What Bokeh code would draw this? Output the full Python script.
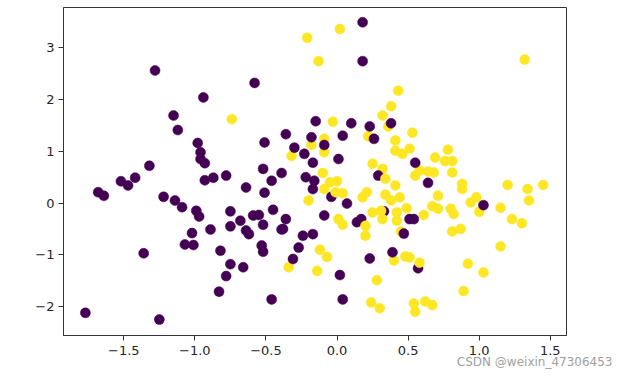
from bokeh.plotting import figure
from bokeh.models import ColumnDataSource, Range1d, FixedTicker, Title
from bokeh.embed import file_html
from bokeh.resources import INLINE

# class 0 (purple) points
x0 = [-1.28, -0.94, -1.15, -1.12, -0.98, -0.96, -0.96, -0.93, -1.32, -1.52,
      -1.42, -1.47, -1.68, -1.64, -0.93, -0.87, -0.78, -1.22, -1.14, -1.09,
      -0.99, -0.97, -0.75, -0.89, -1.02, -0.75, -1.07, -1.01, -1.36, -0.82,
      -0.75, -0.78, -0.83, -1.77, -1.25, 0.18, 0.18, -0.58, -0.15, 0.10,
      0.23, 0.38, -0.36, -0.18, 0.04, 0.26, -0.51, -0.30, -0.09, -0.23,
      0.01, -0.17, -0.52, -0.39, -0.22, 0.55, 0.29, 0.64, 1.03, 0.51,
      0.54, 0.47, 0.39, 0.57, 0.33, -0.16, -0.17, -0.04, 0.07, -0.36,
      -0.09, 0.14, 0.17, -0.38, -0.24, -0.17, -0.64, -0.51, -0.46, -0.68,
      -0.64, -0.62, -0.59, -0.55, -0.45, -0.52, -0.39, -0.53, -0.52, -0.27,
      -0.31, -0.66, -0.46, 0.02, 0.04, 0.23]
y0 = [2.56, 2.04, 1.69, 1.41, 1.16, 0.98, 0.85, 0.77, 0.72, 0.42,
      0.49, 0.34, 0.21, 0.14, 0.44, 0.49, 0.53, 0.12, 0.05, -0.08,
      -0.15, -0.26, -0.16, -0.51, -0.58, -0.45, -0.80, -0.81, -0.97, -0.92,
      -1.18, -1.41, -1.71, -2.12, -2.25, 3.49, 2.74, 2.32, 1.58, 1.54,
      1.48, 1.54, 1.33, 1.27, 1.30, 1.24, 1.17, 1.07, 1.12, 0.95,
      0.85, 0.78, 0.66, 0.58, 0.50, 0.78, 0.53, 0.39, -0.04, -0.31,
      -0.31, -0.59, -0.95, -1.26, -0.16, 0.43, 0.27, 0.12, -0.01, -0.31,
      -0.24, -0.37, -0.31, -0.50, -0.63, -0.60, 0.30, 0.20, 0.43, -0.34,
      -0.53, -0.60, -0.24, -0.23, -0.13, -0.42, -0.51, -0.82, -0.94, -0.86,
      -1.08, -1.24, -1.86, -1.39, -1.86, -1.07]

# class 1 (yellow) points
x1 = [-0.74, 0.02, -0.21, -0.13, 0.43, 0.38, 0.32, -0.03, 0.36, -0.09,
      0.22, 0.41, -0.18, -0.09, -0.32, 0.25, 0.32, 0.41, -0.10, 1.32,
      0.53, 0.46, 0.51, 0.78, 0.69, 0.76, 0.81, 0.58, 0.64, 0.68,
      0.81, 0.55, 0.88, 0.88, 1.20, 1.34, 1.45, 1.35, 0.41, 0.44,
      0.38, 0.71, 0.98, 0.94, 1.00, 1.15, 0.67, 0.71, 0.49, 0.42,
      0.61, 0.80, 0.82, 0.42, 1.23, 1.30, 0.45, 0.81, 0.87, 1.15,
      0.40, 0.48, 0.51, 0.58, 0.92, 1.03, 0.89, 0.54, 0.55, 0.62,
      0.67, 0.34, 0.31, 0.32, -0.09, -0.05, 0.00, -0.01, 0.04, -0.20,
      0.18, 0.21, 0.01, 0.04, 0.20, 0.25, 0.20, -0.34, -0.12, -0.07,
      -0.14, 0.28, 0.24, 0.30, 0.34]
y1 = [1.62, 3.36, 3.19, 2.74, 2.17, 1.87, 1.69, 1.57, 1.48, 1.24,
      1.29, 1.21, 1.12, 0.98, 0.91, 0.76, 0.66, 1.01, 0.58, 2.77,
      1.36, 0.95, 1.05, 1.03, 0.88, 0.81, 0.81, 0.63, 0.61, 0.59,
      0.59, 0.53, 0.37, 0.27, 0.35, 0.27, 0.35, 0.05, 0.34, 0.11,
      0.05, 0.14, 0.11, 0.01, -0.17, -0.09, -0.06, -0.11, -0.10, -0.18,
      -0.23, -0.11, -0.21, -0.34, -0.31, -0.39, -0.55, -0.55, -0.50, -0.84,
      -1.11, -1.03, -1.05, -1.15, -1.17, -1.34, -1.70, -1.94, -2.10, -1.90,
      -1.97, 0.16, -0.15, -0.31, 0.27, 0.40, 0.42, 0.21, 0.19, 0.05,
      0.11, 0.21, -0.31, -0.42, -0.44, -0.18, -0.63, -1.24, -0.90, -1.04,
      -1.31, -1.49, -1.92, -2.03, 0.47]

x_ticks = [-1.5, -1.0, -0.5, 0.0, 0.5, 1.0, 1.5]
x_tick_labels = ["\u22121.5", "\u22121.0", "\u22120.5", "0.0", "0.5", "1.0", "1.5"]
y_ticks = [-2, -1, 0, 1, 2, 3]
y_tick_labels = ["\u22122", "\u22121", "0", "1", "2", "3"]

class_colors = ["#440154", "#fde725"]

xs, ys, cs = [], [], []
for i in range(max(len(x0), len(x1))):
    if i < len(x0):
        xs.append(x0[i]); ys.append(y0[i]); cs.append(class_colors[0])
    if i < len(x1):
        xs.append(x1[i]); ys.append(y1[i]); cs.append(class_colors[1])

src = ColumnDataSource(dict(x=xs, y=ys, c=cs))

p = figure(width=628, height=376, output_backend="svg", toolbar_location=None,
           x_range=Range1d(-1.924, 1.614), y_range=Range1d(-2.557, 3.776),
           min_border_left=63, min_border_right=62, min_border_top=7,
           min_border_bottom=41)
p.background_fill_color = "white"
p.border_fill_color = "white"
p.grid.visible = False
p.outline_line_color = "#333333"
p.outline_line_width = 1
p.outline_line_alpha = 1

p.scatter("x", "y", source=src, size=10, fill_color="c", line_color="c",
          line_width=0.5)

for ax in (p.xaxis[0], p.yaxis[0]):
    ax.axis_line_color = "#333333"
    ax.major_tick_line_color = "#333333"
    ax.major_tick_in = 0
    ax.major_tick_out = 5
    ax.minor_tick_line_color = None
    ax.major_label_text_font = "DejaVu Sans"
    ax.major_label_text_font_size = "13px"
    ax.major_label_text_color = "#262626"

p.xaxis[0].ticker = FixedTicker(ticks=x_ticks)
p.xaxis[0].major_label_overrides = {t: l for t, l in zip(x_ticks, x_tick_labels)}
p.xaxis[0].major_label_standoff = 5
p.yaxis[0].ticker = FixedTicker(ticks=y_ticks)
p.yaxis[0].major_label_overrides = {t: l for t, l in zip(y_ticks, y_tick_labels)}
p.yaxis[0].major_label_standoff = 4

wm = Title(text="CSDN @weixin_47306453", align="right", offset=-46,
           standoff=-9, text_font="DejaVu Sans", text_font_size="12px",
           text_font_style="normal", text_color="#a0a0a0")
p.add_layout(wm, "below")

open("out.html", "w").write(file_html(p, INLINE))
